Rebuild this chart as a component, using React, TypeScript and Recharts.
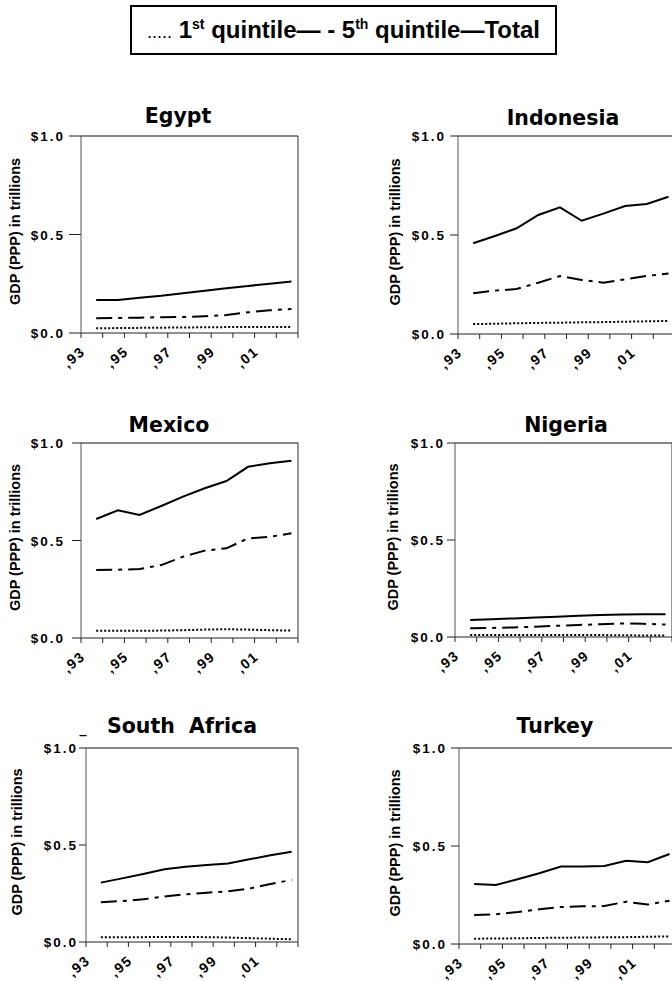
import { LineChart, Line, XAxis, YAxis, ReferenceLine } from "recharts";

// years 1993..2002, each point sits ~0.7 into its year band (as in the original)
const YEARS = [1993, 1994, 1995, 1996, 1997, 1998, 1999, 2000, 2001, 2002];
const PLOT_AT = 0.7;
const X_TICKS = [1993, 1994, 1995, 1996, 1997, 1998, 1999, 2000, 2001, 2002, 2003];
const X_LABELS: Record<number, string> = { 1993: "‚93", 1995: "‚95", 1997: "‚97", 1999: "‚99", 2001: "‚01" };
const Y_TICKS = [0, 0.5, 1];
const Y_LABELS: Record<string, string> = { "0": "$0.0", "0.5": "$0.5", "1": "$1.0" };

const EGYPT_TOTAL = [0.168, 0.168, 0.179, 0.189, 0.202, 0.215, 0.227, 0.239, 0.25, 0.262];
const EGYPT_Q5 = [0.075, 0.076, 0.078, 0.08, 0.081, 0.085, 0.091, 0.105, 0.115, 0.122];
const EGYPT_Q1 = [0.024, 0.025, 0.026, 0.027, 0.028, 0.029, 0.03, 0.031, 0.031, 0.03];

const INDONESIA_TOTAL = [0.458, 0.495, 0.534, 0.601, 0.64, 0.572, 0.608, 0.646, 0.657, 0.693];
const INDONESIA_Q5 = [0.206, 0.219, 0.227, 0.259, 0.293, 0.273, 0.259, 0.276, 0.293, 0.306];
const INDONESIA_Q1 = [0.05, 0.052, 0.054, 0.056, 0.057, 0.059, 0.06, 0.062, 0.064, 0.066];

const MEXICO_TOTAL = [0.61, 0.655, 0.631, 0.677, 0.725, 0.768, 0.805, 0.878, 0.896, 0.909];
const MEXICO_Q5 = [0.349, 0.35, 0.354, 0.374, 0.417, 0.448, 0.46, 0.511, 0.519, 0.537];
const MEXICO_Q1 = [0.037, 0.037, 0.037, 0.038, 0.04, 0.043, 0.045, 0.043, 0.04, 0.038];

const NIGERIA_TOTAL = [0.088, 0.092, 0.096, 0.1, 0.105, 0.11, 0.114, 0.116, 0.117, 0.117];
const NIGERIA_Q5 = [0.045, 0.047, 0.049, 0.053, 0.058, 0.062, 0.066, 0.07, 0.068, 0.064];
const NIGERIA_Q1 = [0.01, 0.01, 0.01, 0.01, 0.01, 0.01, 0.01, 0.009, 0.008, 0.008];

const SAFRICA_TOTAL = [0.306, 0.328, 0.351, 0.375, 0.388, 0.397, 0.405, 0.426, 0.447, 0.465];
const SAFRICA_Q5 = [0.205, 0.211, 0.22, 0.234, 0.246, 0.254, 0.261, 0.275, 0.299, 0.32];
const SAFRICA_Q1 = [0.024, 0.025, 0.025, 0.026, 0.026, 0.025, 0.023, 0.02, 0.017, 0.014];

const TURKEY_TOTAL = [0.306, 0.301, 0.33, 0.361, 0.395, 0.395, 0.398, 0.425, 0.417, 0.459];
const TURKEY_Q5 = [0.148, 0.152, 0.163, 0.177, 0.189, 0.192, 0.194, 0.216, 0.201, 0.221];
const TURKEY_Q1 = [0.027, 0.028, 0.029, 0.031, 0.032, 0.033, 0.034, 0.035, 0.037, 0.039];

const Y_TITLE = "GDP (PPP) in trillions";
const TITLE_FONT = "'DejaVu Sans', sans-serif";
const FONT = "'Liberation Sans', Arial, sans-serif";

type Geo = {
  title: string;
  left: number;
  plotX: number;
  plotY: number;
  plotW: number;
  plotH: number;
  labelX: number;
  tickEnd: number;
  tickLen: number;
  titleX: number;
  titleY: number;
};

const PANELS: { g: Geo; q1: number[]; q5: number[]; total: number[] }[] = [
  {
    g: { title: "Egypt", left: 0, plotX: 81, plotY: 136, plotW: 217, plotH: 197, labelX: 15, tickEnd: 65, tickLen: 12, titleX: 178, titleY: 123 },
    q1: EGYPT_Q1, q5: EGYPT_Q5, total: EGYPT_TOTAL,
  },
  {
    g: { title: "Indonesia", left: 340, plotX: 458, plotY: 136, plotW: 217, plotH: 198, labelX: 395, tickEnd: 446, tickLen: 8, titleX: 563, titleY: 125 },
    q1: INDONESIA_Q1, q5: INDONESIA_Q5, total: INDONESIA_TOTAL,
  },
  {
    g: { title: "Mexico", left: 0, plotX: 81, plotY: 443, plotW: 217, plotH: 195, labelX: 15, tickEnd: 65, tickLen: 9, titleX: 169, titleY: 432 },
    q1: MEXICO_Q1, q5: MEXICO_Q5, total: MEXICO_TOTAL,
  },
  {
    g: { title: "Nigeria", left: 340, plotX: 455, plotY: 443, plotW: 217, plotH: 194, labelX: 393, tickEnd: 445, tickLen: 8, titleX: 566, titleY: 432 },
    q1: NIGERIA_Q1, q5: NIGERIA_Q5, total: NIGERIA_TOTAL,
  },
  {
    g: { title: "South  Africa", left: 0, plotX: 86, plotY: 748, plotW: 212, plotH: 194, labelX: 17, tickEnd: 78, tickLen: 7, titleX: 182, titleY: 733 },
    q1: SAFRICA_Q1, q5: SAFRICA_Q5, total: SAFRICA_TOTAL,
  },
  {
    g: { title: "Turkey", left: 340, plotX: 459, plotY: 748, plotW: 217, plotH: 196, labelX: 395, tickEnd: 447, tickLen: 8, titleX: 555, titleY: 733 },
    q1: TURKEY_Q1, q5: TURKEY_Q5, total: TURKEY_TOTAL,
  },
];

const TOP_PAD = 10;

function Panel({ g, q1, q5, total }: { g: Geo; q1: number[]; q5: number[]; total: number[] }) {
  const axisW = g.plotX - g.left;
  const width = axisW + g.plotW + 6;
  const height = g.plotH + TOP_PAD + 45;
  const axisY = TOP_PAD + g.plotH;
  const rows = YEARS.map((yr, i) => ({ x: yr + PLOT_AT, q1: q1[i], q5: q5[i], total: total[i] }));

  const xTick = (p: any) => {
    const v = p.payload.value;
    const label = X_LABELS[v];
    const ax = p.x + 5;
    const ay = axisY + 20;
    return (
      <g>
        <line x1={p.x} x2={p.x} y1={axisY} y2={axisY + 5} stroke="#222" />
        {label && (
          <text
            x={ax}
            y={ay}
            transform={`rotate(-40, ${ax}, ${ay})`}
            textAnchor="end"
            fontFamily={FONT}
            fontWeight="bold"
            fontSize={14}
            letterSpacing={1.5}
            fill="#000"
          >
            {label}
          </text>
        )}
      </g>
    );
  };

  const yTick = (p: any) => {
    const v = p.payload.value;
    return (
      <g>
        <line x1={axisW - g.tickLen} x2={axisW} y1={p.y} y2={p.y} stroke="#222" />
        <text
          x={g.tickEnd - g.left}
          y={p.y + 5}
          textAnchor="end"
          fontFamily={FONT}
          fontWeight="bold"
          fontSize={13.5}
          letterSpacing={2}
          fill="#000"
        >
          {Y_LABELS[String(v)]}
        </text>
      </g>
    );
  };

  return (
    <div style={{ position: "absolute", left: g.left, top: g.plotY - TOP_PAD, width, height }}>
      <LineChart width={width} height={height} data={rows} margin={{ top: TOP_PAD, right: 6, bottom: 0, left: 0 }}>
        <XAxis
          dataKey="x"
          type="number"
          domain={[1993, 2003]}
          ticks={X_TICKS}
          interval={0}
          height={45}
          axisLine={{ stroke: "#222" }}
          tickLine={false}
          tick={xTick}
          allowDataOverflow
        />
        <YAxis
          type="number"
          domain={[0, 1]}
          ticks={Y_TICKS}
          interval={0}
          width={axisW}
          axisLine={{ stroke: "#555" }}
          tickLine={false}
          tick={yTick}
        />
        <ReferenceLine y={1} stroke="#111" />
        <ReferenceLine x={2003} stroke="#333" />
        <Line dataKey="q1" type="linear" stroke="#000" strokeWidth={2} strokeDasharray="2 2" dot={false} isAnimationActive={false} />
        <Line dataKey="q5" type="linear" stroke="#000" strokeWidth={2} strokeDasharray="16 6 4 6" dot={false} isAnimationActive={false} />
        <Line dataKey="total" type="linear" stroke="#000" strokeWidth={2} dot={false} isAnimationActive={false} />
      </LineChart>
    </div>
  );
}

const SUP = { fontSize: 14, verticalAlign: "super", lineHeight: 0 } as const;

export default function App() {
  return (
    <div style={{ position: "absolute", left: 0, top: 0, width: 672, height: 981, overflow: "hidden", background: "#fff" }}>
      <div
        style={{
          position: "absolute",
          left: 130,
          top: 5,
          width: 427,
          height: 50,
          boxSizing: "border-box",
          border: "2px solid #000",
          display: "flex",
          alignItems: "center",
          justifyContent: "center",
          fontFamily: FONT,
          fontWeight: "bold",
          fontSize: 24,
          color: "#000",
        }}
      >
        <span style={{ whiteSpace: "pre" }}>
          <span style={{ fontSize: 18, fontWeight: "normal" }}>.....</span>
          {" 1"}
          <span style={SUP}>st</span>
          {" quintile— - 5"}
          <span style={SUP}>th</span>
          {" quintile—Total"}
        </span>
      </div>

      {PANELS.map((p) => (
        <Panel key={p.g.title} g={p.g} q1={p.q1} q5={p.q5} total={p.total} />
      ))}

      <svg width={672} height={981} style={{ position: "absolute", left: 0, top: 0, pointerEvents: "none" }}>
        {PANELS.map(({ g }) => {
          const cy = g.plotY + g.plotH / 2 - 3;
          return (
            <g key={g.title}>
              <text
                x={g.titleX}
                y={g.titleY}
                textAnchor="middle"
                fontFamily={TITLE_FONT}
                fontWeight="bold"
                fontSize={20.5}
                style={{ whiteSpace: "pre" }}
                fill="#000"
              >
                {g.title}
              </text>
              <text
                x={g.labelX}
                y={cy}
                transform={`rotate(-90, ${g.labelX}, ${cy})`}
                textAnchor="middle"
                dominantBaseline="central"
                fontFamily={FONT}
                fontWeight="bold"
                fontSize={14.5}
                fill="#000"
              >
                {Y_TITLE}
              </text>
            </g>
          );
        })}
        <text x={83} y={733} textAnchor="middle" fontFamily={TITLE_FONT} fontWeight="bold" fontSize={14} fill="#000">
          _
        </text>
      </svg>
    </div>
  );
}
